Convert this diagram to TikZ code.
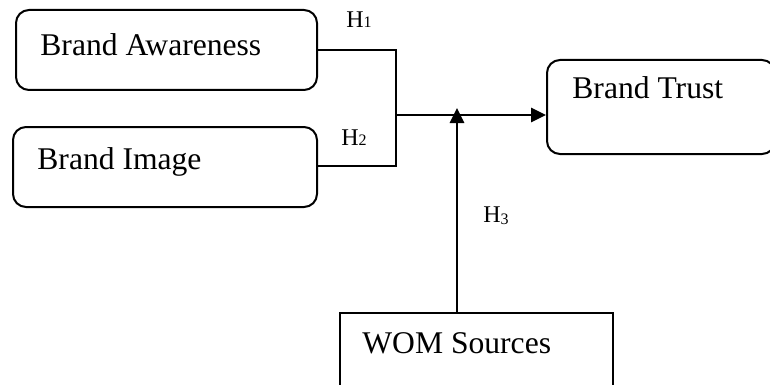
\documentclass[tikz,border=0pt]{standalone}
\usepackage{fontspec}
\setmainfont{Liberation Serif}
\usetikzlibrary{arrows.meta}
\begin{document}
\begin{tikzpicture}[x=0.5pt,y=-0.5pt,
  rbox/.style={draw,line width=1pt,rounded corners=6.5pt,inner sep=0pt},
  sbox/.style={draw,line width=1pt,inner sep=0pt},
  lbl/.style={font=\fontsize{15.8}{18}\selectfont,inner sep=0pt,anchor=west},
  hyp/.style={font=\fontsize{12}{14}\selectfont,inner sep=0pt,anchor=west},
  conn/.style={line width=1pt},
  arr/.style={line width=1.4pt,-{Triangle[length=7.5pt,width=7pt]}}]
\useasboundingbox (0,0) rectangle (770,385);
% boxes
\node[rbox,minimum width=150.5pt,minimum height=40pt] (BA) at (166.5,50) {};
\node[rbox,minimum width=152pt,minimum height=40pt] (BI) at (165,167) {};
\node[rbox,minimum width=114pt,minimum height=47pt] (BT) at (661,107) {};
\node[sbox,minimum width=136.5pt,minimum height=45pt] (WOM) at (476.5,358) {};
% texts
\node[lbl] (tBA) at (40,45) {Brand Awareness};
\node[lbl] (tBI) at (37,162) {Brand Image};
\node[lbl] (tBT) at (572,88) {Brand Trust};
\node[lbl] (tWOM) at (362,343) {WOM Sources};
\node[hyp] (h1) at (346,20) {H{\fontsize{8}{9}\selectfont 1}};
\node[hyp] (h2) at (341,138) {H{\fontsize{8}{9}\selectfont 2}};
\node[hyp] (h3) at (483,216) {H{\fontsize{8}{9}\selectfont\raisebox{-1pt}{3}}};
% connectors
\coordinate (J1) at (396,50);
\coordinate (J2) at (396,166);
\coordinate (J) at (396,115);
\coordinate (Wtop) at (457,313);
\coordinate (Wtip) at (457,108);
\draw[conn] (BA.east |- J1) -- (J1) -- (J2) -- (BI.east |- J2);
\draw[arr] (J) -- (J -| BT.west);
\draw[arr] (Wtop) -- (Wtip);
\end{tikzpicture}
\end{document}
